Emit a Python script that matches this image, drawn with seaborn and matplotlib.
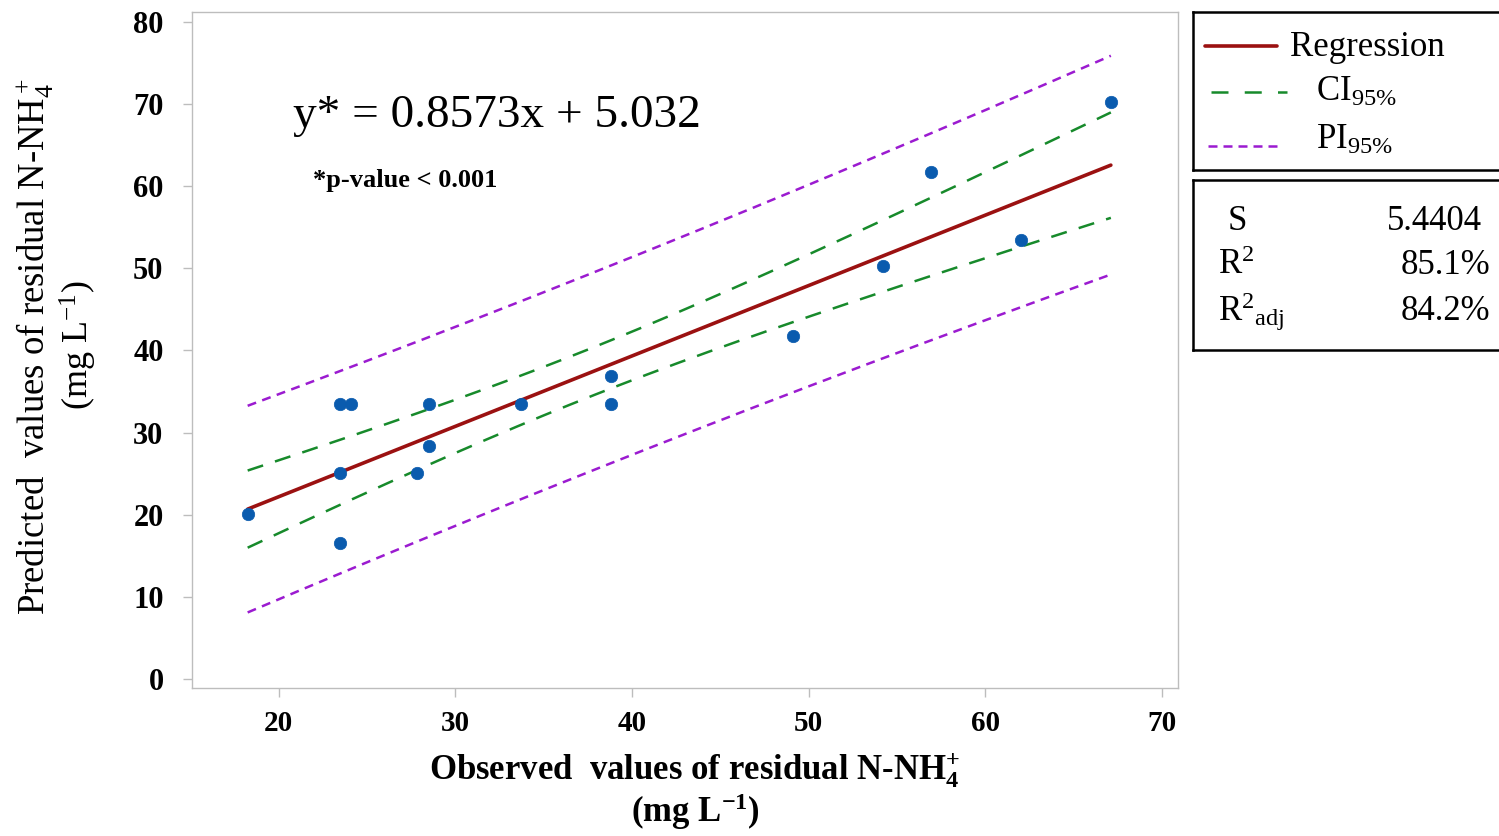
import numpy as np
import pandas as pd
import matplotlib
matplotlib.use("Agg")
import matplotlib.pyplot as plt
import seaborn as sns

# Observed vs predicted residual N-NH4+ (mg/L)
observed = [18.25, 23.45, 24.1, 23.45, 23.45, 27.85, 28.5, 28.5,
            33.7, 38.8, 38.8, 49.1, 54.2, 56.9, 62.0, 67.1]
predicted = [20.1, 33.5, 33.5, 25.1, 16.6, 25.1, 33.5, 28.4,
             33.5, 36.9, 33.5, 41.8, 50.3, 61.7, 53.5, 70.3]

# Regression summary
slope = 0.8573
intercept = 5.032
s_value = 5.4404
r2 = 85.1
r2_adj = 84.2
t_crit = 2.145  # Student t, 95 % two-sided, 14 degrees of freedom

x_ticks = [20, 30, 40, 50, 60, 70]
y_ticks = [0, 10, 20, 30, 40, 50, 60, 70, 80]

sns.set_theme(style="white")
plt.rcParams["font.family"] = ["Liberation Serif", "DejaVu Serif"]
plt.rcParams["text.color"] = "black"
plt.rcParams["mathtext.fontset"] = "custom"
plt.rcParams["mathtext.rm"] = "Liberation Serif"
plt.rcParams["mathtext.it"] = "Liberation Serif:italic"
plt.rcParams["mathtext.bf"] = "Liberation Serif:bold"

W, H = 1499, 836
fig = plt.figure(figsize=(W / 100, H / 100), dpi=100)
fig.patch.set_facecolor("white")


def fx(px):
    return px / W


def fy(py):
    return 1 - py / H


ax = fig.add_axes([fx(192), fy(688), (1178 - 192) / W, (688 - 12) / H])

# Regression line with 95 % confidence and prediction bands
xo = np.array(observed)
n = len(xo)
x_mean = xo.mean()
sxx = ((xo - x_mean) ** 2).sum()
grid = np.linspace(xo.min(), xo.max(), 200)
fit = slope * grid + intercept
lev = 1.0 / n + (grid - x_mean) ** 2 / sxx
ci_half = t_crit * s_value * np.sqrt(lev)
pi_half = t_crit * s_value * np.sqrt(1 + lev)

bands = pd.DataFrame({
    "x": grid,
    "fit": fit,
    "ci_lo": fit - ci_half,
    "ci_hi": fit + ci_half,
    "pi_lo": fit - pi_half,
    "pi_hi": fit + pi_half,
})

red = "#9B1111"
green = "#178A2B"
purple = "#9B1BD0"
blue = "#0A5BAE"

ci_dash = (0, (6.5, 5.0))
pi_dash = (0, (3.6, 2.6))

for col in ["pi_lo", "pi_hi"]:
    sns.lineplot(data=bands, x="x", y=col, ax=ax, color=purple, lw=1.8,
                 linestyle=pi_dash)
for col in ["ci_lo", "ci_hi"]:
    sns.lineplot(data=bands, x="x", y=col, ax=ax, color=green, lw=1.8,
                 linestyle=ci_dash)
sns.lineplot(data=bands, x="x", y="fit", ax=ax, color=red, lw=2.6)

points = pd.DataFrame({"observed": observed, "predicted": predicted})
sns.scatterplot(data=points, x="observed", y="predicted", ax=ax, color=blue,
                s=80, edgecolor=blue, linewidth=0.5, zorder=5)

ax.set_xlim(15.1, 70.9)
ax.set_ylim(-1.1, 81.2)
ax.set_xticks(x_ticks)
ax.set_yticks(y_ticks)
ax.set_xlabel("")
ax.set_ylabel("")
for sp in ax.spines.values():
    sp.set_color("#BDBDBD")
    sp.set_linewidth(1.0)
ax.tick_params(axis="both", direction="out", length=6.5, width=1.0,
               color="#BDBDBD", labelcolor="black", bottom=True, left=True)
ax.tick_params(axis="y", pad=14, labelsize=22)
ax.tick_params(axis="x", pad=9, labelsize=21)
for lab in ax.get_yticklabels() + ax.get_xticklabels():
    lab.set_fontweight("bold")

# Equation and significance note
fig.text(fx(293), fy(116), "y* = 0.8573x + 5.032", fontsize=34,
         ha="left", va="center")
fig.text(fx(313), fy(181), "*p-value < 0.001", fontsize=19,
         fontweight="bold", ha="left", va="center")

# Axis titles
fig.text(fx(695), fy(770),
         r"Observed  values of residual N-NH$_\mathbf{4}^\mathbf{+}$",
         fontsize=25, fontweight="bold", ha="center", va="center")
fig.text(fx(695), fy(812), r"(mg L$^\mathbf{-1}$)",
         fontsize=25, fontweight="bold", ha="center", va="center")
fig.text(fx(35), fy(347),
         r"Predicted  values of residual N-NH$_4^+$",
         fontsize=26.5, rotation=90, ha="center", va="center")
fig.text(fx(78), fy(345), r"(mg L$^{-1}$)",
         fontsize=26, rotation=90, ha="center", va="center")


def box_axes(top, bottom):
    bx = fig.add_axes([fx(1193), fy(bottom), (1515 - 1193) / W,
                       (bottom - top) / H])
    bx.set_xlim(1193, 1515)
    bx.set_ylim(bottom, top)
    bx.set_xticks([])
    bx.set_yticks([])
    for sp in bx.spines.values():
        sp.set_color("black")
        sp.set_linewidth(1.8)
    bx.patch.set_facecolor("white")
    return bx


# Legend box
lg = box_axes(12, 170)
lg.plot([1205, 1277], [46, 46], color=red, lw=2.6)
lg.plot([1211, 1287], [92, 92], color=green, lw=1.8, linestyle=(0, (6.8, 6.5)))
lg.plot([1208, 1283], [146, 146], color=purple, lw=1.8,
        linestyle=(0, (3.6, 2.4)))
lg.text(1290, 47, "Regression", fontsize=25, ha="left", va="center")
lg.text(1316, 92, r"CI$_{\mathit{95\%}}$", fontsize=25, ha="left", va="center")
lg.text(1316, 140, r"PI$_{\mathit{95\%}}$", fontsize=25, ha="left",
        va="center")

# Fit statistics box
st = box_axes(180, 350)
st.text(1228, 221, "S", fontsize=25, ha="left", va="center")
st.text(1482, 221, f"{s_value:.4f}", fontsize=25, ha="right", va="center")
st.text(1218, 266, r"R$^2$", fontsize=25, ha="left", va="center")
st.text(1490, 266, f"{r2:.1f}%", fontsize=25, ha="right", va="center")
st.text(1218, 312, r"R$^2$$_{\mathrm{adj}}$", fontsize=25, ha="left",
        va="center")
st.text(1490, 312, f"{r2_adj:.1f}%", fontsize=25, ha="right", va="center")

fig.savefig("out.png", dpi=100, facecolor="white")
